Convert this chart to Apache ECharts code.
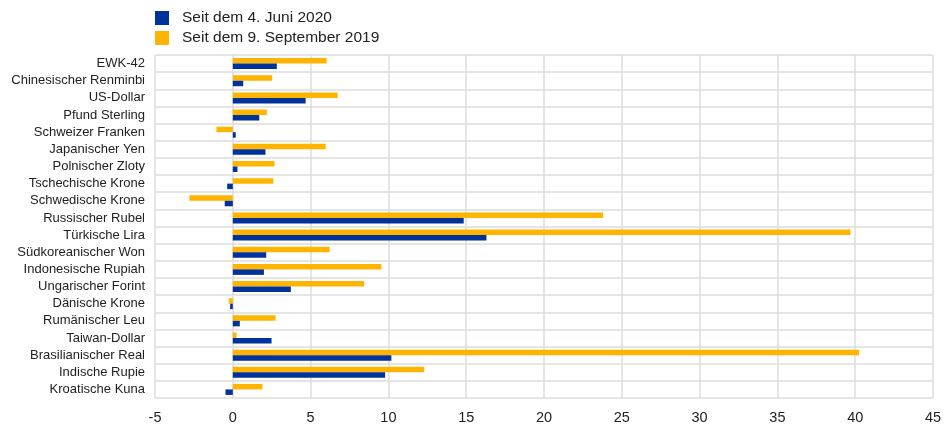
<!DOCTYPE html>
<html><head><meta charset="utf-8">
<script src="https://cdn.jsdelivr.net/npm/echarts@6/dist/echarts.min.js"></script>
<style>html,body{margin:0;padding:0;background:#fff}#c{width:945px;height:425px}</style>
</head><body><div id="c"></div>
<script>
const categories = ["EWK-42","Chinesischer Renminbi","US-Dollar","Pfund Sterling","Schweizer Franken","Japanischer Yen","Polnischer Zloty","Tschechische Krone","Schwedische Krone","Russischer Rubel","Türkische Lira","Südkoreanischer Won","Indonesische Rupiah","Ungarischer Forint","Dänische Krone","Rumänischer Leu","Taiwan-Dollar","Brasilianischer Real","Indische Rupie","Kroatische Kuna"];
const seriesNames = ["Seit dem 4. Juni 2020","Seit dem 9. September 2019"];
const sinceJune2020 = [2.83,0.67,4.68,1.70,0.19,2.10,0.30,-0.36,-0.52,14.84,16.3,2.15,2.0,3.73,-0.17,0.45,2.49,10.19,9.79,-0.47];
const sinceSep2019 = [6.03,2.53,6.74,2.19,-1.05,5.97,2.68,2.60,-2.79,23.8,39.7,6.22,9.55,8.45,-0.26,2.75,0.24,40.25,12.3,1.91];
const xTicks = {min:-5,max:45,interval:5};

const chart = echarts.init(document.getElementById('c'), null, {renderer:'canvas'});
chart.setOption({
  animation:false,
  legend:{
    orient:'vertical', left:155, top:10, itemWidth:14, itemHeight:14, itemGap:4, padding:0,
    icon:'rect',
    textStyle:{fontFamily:'Liberation Sans, Arial, sans-serif', fontSize:15.5, color:'#222', padding:[0,0,0,8], lineHeight:16},
    data:seriesNames
  },
  grid:{left:155, right:12, top:55, bottom:27, containLabel:false},
  xAxis:{
    type:'value', min:xTicks.min, max:xTicks.max, interval:xTicks.interval,
    axisLine:{show:false}, axisTick:{show:false},
    axisLabel:{fontFamily:'Liberation Sans, Arial, sans-serif', fontSize:14.5, color:'#222', margin:12},
    splitLine:{show:true, lineStyle:{color:'#dcdcdc', width:1.5}}
  },
  yAxis:{
    type:'category', data:categories, inverse:true,
    axisLine:{show:false}, axisTick:{show:false},
    axisLabel:{fontFamily:'Liberation Sans, Arial, sans-serif', fontSize:13, color:'#222', margin:10},
    splitLine:{show:true, lineStyle:{color:'#dcdcdc', width:1.5}}
  },
  series:[
    {name:seriesNames[1], type:'bar', data:sinceSep2019, barWidth:5.5, barGap:'0%', itemStyle:{color:'#FFB400'}},
    {name:seriesNames[0], type:'bar', data:sinceJune2020, barWidth:5.5, barGap:'0%', itemStyle:{color:'#003299'}}
  ]
});
</script></body></html>
